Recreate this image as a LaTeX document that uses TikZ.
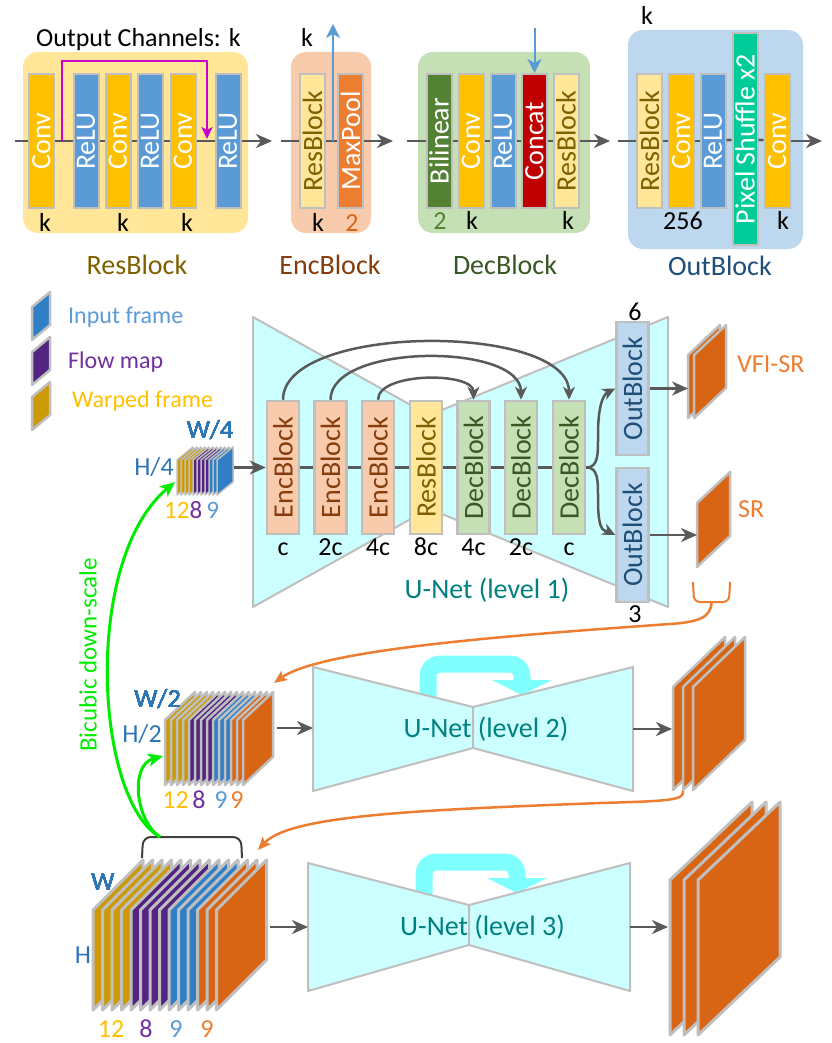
\documentclass[tikz,border=0pt]{standalone}
\usepackage{fontspec}
\setmainfont{Carlito}
\usetikzlibrary{arrows.meta}

\definecolor{convc}{HTML}{FFC000}
\definecolor{reluc}{HTML}{5B9BD5}
\definecolor{resc}{HTML}{FFE699}
\definecolor{restext}{HTML}{7F6000}
\definecolor{encc}{HTML}{F8CBAD}
\definecolor{enctext}{HTML}{843C0C}
\definecolor{decc}{HTML}{C5E0B4}
\definecolor{dectext}{HTML}{385723}
\definecolor{outc}{HTML}{BDD7EE}
\definecolor{outtext}{HTML}{1F4E79}
\definecolor{poolc}{HTML}{ED7D31}
\definecolor{bilc}{HTML}{548235}
\definecolor{catc}{HTML}{C00000}
\definecolor{pixc}{HTML}{00CC99}
\definecolor{edgec}{HTML}{BFBFBF}
\definecolor{arrowc}{HTML}{595959}
\definecolor{unetc}{HTML}{CCFFFF}
\definecolor{bandc}{HTML}{80FFFF}
\definecolor{unettext}{HTML}{008080}
\definecolor{warpc}{HTML}{CC9A06}
\definecolor{flowc}{HTML}{532481}
\definecolor{inpc}{HTML}{2F7EC6}
\definecolor{srcol}{HTML}{D86514}
\definecolor{orangec}{HTML}{ED7D31}
\definecolor{purplec}{HTML}{7030A0}
\definecolor{dimc}{HTML}{2E75B6}
\definecolor{greenc}{HTML}{00EB00}
\definecolor{skipc}{HTML}{CC00CC}
\definecolor{brc}{HTML}{404040}

\newcommand{\fsz}[1]{\fontsize{#1}{#1}\selectfont}
\newcommand{\vtext}[1]{\rotatebox{90}{#1}}
% one slice of a frame stack: x, y (bottom left), width, height, rise, colour
\newcommand{\slab}[7][]{\draw[slabline,#1,fill=#7] (#2,#3) -- ++(0,-#5) -- ++(#4,-#6) -- ++(0,#5) -- cycle;}

\tikzset{
  bar/.style={draw=edgec, line width=2pt, minimum width=25pt, minimum height=134pt, inner sep=0pt, text=white, font=\fsz{28}},
  ubar/.style={bar, minimum width=32pt, minimum height=133pt, line width=2.5pt},
  lbl/.style={anchor=base, inner sep=0pt, font=\fsz{26}},
  ttl/.style={anchor=base, inner sep=0pt, font=\fsz{28}},
  lgd/.style={anchor=base west, inner sep=0pt, font=\fsz{24}},
  flow/.style={draw=arrowc, line width=2.5pt},
  flowarr/.style={flow, -{Stealth[length=16pt,width=14pt,inset=5pt]}},
  skiparr/.style={draw=skipc, line width=2pt, -{Stealth[length=12pt,width=11pt,inset=3pt]}},
  bluearr/.style={draw=reluc, line width=2pt, -{Stealth[length=14pt,width=14pt,inset=4pt]}},
  linkarr/.style={flow, -{Stealth[length=13pt,width=12pt,inset=4pt]}},
  orangearr/.style={draw=orangec, line width=2.5pt, -{Stealth[length=13pt,width=11pt,inset=3pt]}},
  greenarr/.style={draw=greenc, line width=3pt, -{Stealth[length=15pt,width=13pt,inset=4pt]}},
  unet/.style={fill=unetc, draw=edgec, line width=2pt, line join=round},
  band/.style={draw=bandc, line width=17pt, rounded corners=12pt},
  slabline/.style={draw=edgec, line width=2.5pt, line join=round},
  grp/.style={rounded corners=15pt},
}

\begin{document}
\begin{tikzpicture}[x=1pt,y=-1pt]
\useasboundingbox (0,0) rectangle (831,1043);

%% ---------- top row: the building blocks ----------
\fill[resc,grp] (23,52) rectangle (248,233);
\fill[encc,grp] (291,52) rectangle (371,233);
\fill[decc,grp] (418,52) rectangle (590,233);
\fill[outc,grp] (628,30) rectangle (803,249);

% ResBlock
\node[bar,fill=convc] (rb1) at (41.5,141) {\vtext{Conv}};
\node[bar,fill=reluc] (rb2) at (86,141) {\vtext{ReLU}};
\node[bar,fill=convc] (rb3) at (118,141) {\vtext{Conv}};
\node[bar,fill=reluc] (rb4) at (150,141) {\vtext{ReLU}};
\node[bar,fill=convc] (rb5) at (183,141) {\vtext{Conv}};
\node[bar,fill=reluc] (rb6) at (228,141) {\vtext{ReLU}};
\coordinate (rbin) at (15,141);
\coordinate (rbout) at (272,141);
\foreach \a/\b in {rbin/rb1,rb1/rb2,rb2/rb3,rb3/rb4,rb4/rb5,rb5/rb6}
  \draw[flow] (\a) -- (\b);
\draw[flowarr] (rb6) -- (rbout);
\coordinate (sk1) at (62,141);
\coordinate (sk2) at (207,139);
\draw[skiparr] (sk1) -- (62,61) -| (sk2);
\node[lbl,anchor=base west] (och) at (36,47) {Output Channels: k};
\node[lbl] (rk1) at (45,231) {k};
\node[lbl] (rk2) at (123,231) {k};
\node[lbl] (rk3) at (187,231) {k};
\node[ttl,text=restext] (rbt) at (137,274) {ResBlock};

% EncBlock
\node[bar,fill=resc,text=restext] (eb1) at (312.5,141) {\vtext{ResBlock}};
\node[bar,fill=poolc] (eb2) at (350.5,141) {\vtext{MaxPool}};
\coordinate (ebin) at (281,141);
\coordinate (ebout) at (393,141);
\draw[flow] (ebin) -- (eb1);
\draw[flow] (eb1) -- (eb2);
\draw[flowarr] (eb2) -- (ebout);
\coordinate (eup) at (333,141);
\coordinate (euptip) at (333,24);
\draw[bluearr] (eup) -- (euptip);
\node[lbl] (ek0) at (307,47) {k};
\node[lbl] (ek1) at (318,231) {k};
\node[lbl,text=srcol] (ek2) at (352,231) {2};
\node[ttl,text=enctext] (ebt) at (330,274) {EncBlock};

% DecBlock
\node[bar,fill=bilc] (db1) at (439,141) {\vtext{Bilinear}};
\node[bar,fill=convc] (db2) at (471,141) {\vtext{Conv}};
\node[bar,fill=reluc] (db3) at (503,141) {\vtext{ReLU}};
\node[bar,fill=catc] (db4) at (534.5,141) {\vtext{Concat}};
\node[bar,fill=resc,text=restext] (db5) at (566,141) {\vtext{ResBlock}};
\coordinate (dbin) at (407,141);
\coordinate (dbout) at (610,141);
\foreach \a/\b in {dbin/db1,db1/db2,db2/db3,db3/db4,db4/db5}
  \draw[flow] (\a) -- (\b);
\draw[flowarr] (db5) -- (dbout);
\coordinate (dtop) at (534.5,28);
\draw[bluearr] (dtop) -- (db4);
\node[lbl,text=bilc] (dk1) at (440,229) {2};
\node[lbl] (dk2) at (472,229) {k};
\node[lbl] (dk3) at (568,229) {k};
\node[ttl,text=dectext] (dbt) at (505,274) {DecBlock};

% OutBlock
\node[bar,fill=resc,text=restext] (ob1) at (649.5,141) {\vtext{ResBlock}};
\node[bar,fill=convc] (ob2) at (681,141) {\vtext{Conv}};
\node[bar,fill=reluc] (ob3) at (713,141) {\vtext{ReLU}};
\node[bar,fill=pixc,minimum height=212pt] (ob4) at (745,139) {\vtext{Pixel Shuffle x2}};
\node[bar,fill=convc] (ob5) at (777,141) {\vtext{Conv}};
\coordinate (obin) at (618,141);
\coordinate (obout) at (822,141);
\foreach \a/\b in {obin/ob1,ob1/ob2,ob2/ob3,ob3/ob4,ob4/ob5}
  \draw[flow] (\a) -- (\b);
\draw[flowarr] (ob5) -- (obout);
\node[lbl] (ok0) at (647,25) {k};
\node[lbl] (ok1) at (683,229) {256};
\node[lbl] (ok2) at (783,229) {k};
\node[ttl,text=outtext] (obt) at (720,275) {OutBlock};

%% ---------- legend ----------
\slab{32}{340}{18}{33}{15}{inpc}
\slab{32}{385}{18}{33}{15}{flowc}
\slab{32}{430}{18}{33}{15}{warpc}
\node[lgd,text=reluc] (lg1) at (68,323) {Input frame};
\node[lgd,text=purplec] (lg2) at (68,368) {Flow map};
\node[lgd,text=convc] (lg3) at (72,407) {Warped frame};

%% ---------- U-Net level 1 ----------
\draw[unet] (253,317) -- (425,413) -- (425,511) -- (253,607) -- cycle;
\draw[unet] (437,412) -- (668,317) -- (668,607) -- (437,512) -- cycle;

\node[ubar,fill=encc,text=enctext] (enc1) at (283,467.5) {\vtext{EncBlock}};
\node[ubar,fill=encc,text=enctext] (enc2) at (330.5,467.5) {\vtext{EncBlock}};
\node[ubar,fill=encc,text=enctext] (enc3) at (378,467.5) {\vtext{EncBlock}};
\node[ubar,fill=resc,text=restext] (mid) at (426,467.5) {\vtext{ResBlock}};
\node[ubar,fill=decc,text=dectext] (dec1) at (473.5,467.5) {\vtext{DecBlock}};
\node[ubar,fill=decc,text=dectext] (dec2) at (521,467.5) {\vtext{DecBlock}};
\node[ubar,fill=decc,text=dectext] (dec3) at (569,467.5) {\vtext{DecBlock}};
\node[ubar,fill=outc,text=outtext] (out1) at (632.5,388.5) {\vtext{OutBlock}};
\node[ubar,fill=outc,text=outtext,minimum height=134pt] (out2) at (632.5,535) {\vtext{OutBlock}};

\coordinate (l1in) at (233,467.5);
\draw[flowarr] (l1in) -- (enc1);
\foreach \a/\b in {enc1/enc2,enc2/enc3,enc3/mid,mid/dec1,dec1/dec2,dec2/dec3}
  \draw[flow] (\a) -- (\b);
\draw[linkarr] (enc1.north) .. controls +(0,-77) and +(0,-77) .. (dec3.north);
\draw[linkarr] (enc2.north) .. controls +(0,-57) and +(0,-57) .. (dec2.north);
\draw[linkarr] (enc3.north) .. controls +(0,-28) and +(0,-28) .. (dec1.north);
\draw[linkarr] (dec3.east) .. controls +(12,0) and +(0,20) .. (598,435) .. controls +(0,-35) and +(-10,5) .. (out1.west);
\draw[linkarr] (dec3.east) .. controls +(12,0) and +(0,-20) .. (598,500) .. controls +(0,35) and +(-10,-5) .. (out2.west);

\foreach \n/\t in {enc1/c,enc2/2c,enc3/4c,mid/8c,dec1/4c,dec2/2c,dec3/c}
  \node[lbl] (c\n) at (\n.center |- 0,555) {\t};
\node[lbl] (six) at (635,320) {6};
\node[lbl] (three) at (635,622) {3};
\node[lbl,font=\fsz{28},text=unettext] (un1) at (487,598) {U-Net (level 1)};

% level 1 input stack
\foreach \c [count=\i from 0] in {warpc,warpc,warpc,warpc,flowc,flowc,flowc,flowc,inpc,inpc,inpc}
  \slab[line width=1.5pt]{177+4*\i}{495}{16}{35}{13}{\c}
\node[lbl,text=dimc] (w4) at (210,438) {W/4};
\node[lbl,text=dimc] (h4) at (154,475) {H/4};
\node[lbl,anchor=base west,font=\fsz{25}] (n1) at (164,518) {{\color{convc}12}{\color{purplec}8}\,{\color{reluc}9}};

% level 1 outputs
\slab{688}{418}{32}{63}{30}{srcol}
\slab{694}{418}{32}{63}{30}{srcol}
\slab{697}{567}{33}{64}{31}{srcol}
\coordinate (vfiin) at (688,388.5);
\coordinate (srin) at (697,535);
\draw[flowarr] (out1) -- (vfiin);
\draw[flowarr] (out2) -- (srin);
\node[lbl,anchor=base west,text=orangec] (vfi) at (737,372) {VFI-SR};
\node[lbl,anchor=base west,text=orangec] (sr) at (738,517) {SR};
\draw[draw=orangec,line width=2pt,rounded corners=6pt] (693,582) -- (694,602) -- (729,602) -- (730,582);
\coordinate (br1) at (711.5,602);
\coordinate (l2tip) at (274,683);
\draw[orangearr] (br1) .. controls (711,618) and (698,622) .. (670,624) .. controls (500,636) and (320,650) .. (l2tip);

%% ---------- U-Net level 2 ----------
\draw[band] (428,720) -- (428,664) -- (522,664) -- (522,681);
\fill[bandc] (492,680) -- (552,680) -- (522,695) -- cycle;
\draw[unet] (313,667) -- (473,707) -- (473,748) -- (313,791) -- cycle;
\draw[unet] (473,707) -- (633,667) -- (633,791) -- (473,748) -- cycle;
\node[lbl,font=\fsz{28},text=unettext] (un2) at (486,737) {U-Net (level 2)};

\foreach \c [count=\i from 0] in {warpc,warpc,warpc,warpc,flowc,flowc,flowc,flowc,inpc,inpc,inpc,srcol,srcol,srcol}
  \slab{165+6*\i}{785}{30}{65}{28}{\c}
\node[lbl,text=dimc] (w2) at (157.5,707) {W/2};
\node[lbl,text=dimc] (h2) at (142,742) {H/2};
\node[lbl,text=convc] (m1) at (175.5,808) {12};
\node[lbl,text=purplec] (m2) at (199,808) {8};
\node[lbl,text=reluc] (m3) at (221,808) {9};
\node[lbl,text=orangec] (m4) at (237,808) {9};
\coordinate (l2s) at (277,728);
\coordinate (l2in) at (313,728);
\draw[flowarr] (l2s) -- (l2in);

\foreach \x in {673,683,693}
  \slab{\x}{790}{52}{103}{50}{srcol}
\coordinate (l2out) at (633,729);
\coordinate (l2res) at (672,729);
\draw[flowarr] (l2out) -- (l2res);
\coordinate (br2) at (683,791);
\coordinate (l3tip) at (258,850);
\draw[orangearr] (br2) .. controls (684,800) and (672,801) .. (600,803) .. controls (420,810) and (290,815) .. (l3tip);

%% ---------- U-Net level 3 ----------
\draw[band] (424,920) -- (424,862) -- (517,862) -- (517,879);
\fill[bandc] (487,878) -- (547,878) -- (517,893) -- cycle;
\draw[unet] (308,863) -- (469,905) -- (469,945) -- (308,991) -- cycle;
\draw[unet] (469,905) -- (630,863) -- (630,991) -- (469,945) -- cycle;
\node[lbl,font=\fsz{28},text=unettext] (un3) at (482.5,935) {U-Net (level 3)};

\foreach \c [count=\i from 0] in {warpc,warpc,warpc,warpc,flowc,flowc,flowc,flowc,inpc,inpc,inpc,srcol,srcol,srcol}
  \slab[line width=3pt]{93+9.5*\i}{1010}{50}{100}{50}{\c}
\node[lbl,text=dimc] (w1) at (103,890) {W};
\node[lbl,text=dimc] (h1) at (83,963) {H};
\node[lbl,text=convc] (p1) at (111,1037) {12};
\node[lbl,text=purplec] (p2) at (146,1037) {8};
\node[lbl,text=reluc] (p3) at (176,1037) {9};
\node[lbl,text=orangec] (p4) at (207,1037) {9};
\coordinate (l3s) at (270,927);
\coordinate (l3in) at (308,927);
\draw[flowarr] (l3s) -- (l3in);

\foreach \x in {670,684,698}
  \slab[line width=3pt]{\x}{1035}{82}{155}{78}{srcol}
\coordinate (l3out) at (630,927);
\coordinate (l3res) at (668,927);
\draw[flowarr] (l3out) -- (l3res);

%% ---------- bicubic down-scale ----------
\draw[draw=brc,line width=2pt,rounded corners=8pt] (142,858) -- (143,837) -- (241,837) -- (242,858);
\coordinate (gs) at (160,837);
\coordinate (l1g) at (175,482);
\coordinate (l2g) at (163,756);
\draw[greenarr] (gs) .. controls (95,800) and (82,560) .. (l1g);
\draw[greenarr] (gs) .. controls (135,820) and (130,765) .. (l2g);
\node[text=greenc,font=\fsz{25},rotate=90,inner sep=0pt] (bds) at (88,655) {Bicubic down-scale};
\end{tikzpicture}
\end{document}
